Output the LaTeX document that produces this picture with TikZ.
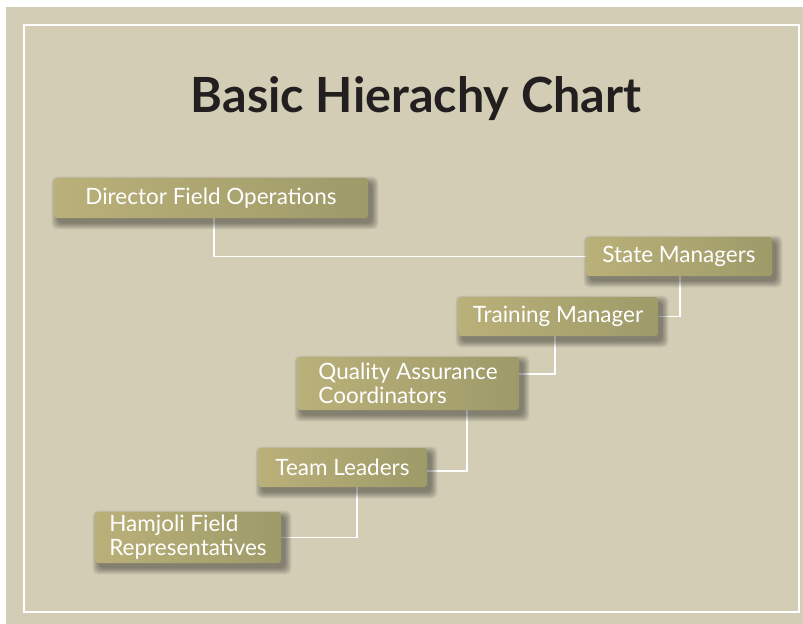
\documentclass[tikz,border=0pt]{standalone}
\usepackage{fontspec}
\setmainfont{Lato}
\usetikzlibrary{calc}
\definecolor{bgbeige}{RGB}{211,205,181}
\definecolor{boxL}{RGB}{186,176,121}
\definecolor{boxR}{RGB}{158,155,105}
\definecolor{titlecol}{RGB}{35,31,32}
\pgfdeclarelayer{back}
\pgfdeclarelayer{lines}
\pgfdeclarelayer{shade}
\pgfsetlayers{back,lines,shade,main}
\tikzset{
  orgbox/.style={rectangle, rounded corners=3bp, left color=boxL, right color=boxR,
    text=white, font=\fontsize{22.5bp}{24bp}\selectfont, align=left, inner sep=0pt},
  link/.style={draw=white, line width=1.8bp},
  titletext/.style={font=\bfseries\fontsize{48.5bp}{54bp}\selectfont, text=titlecol, anchor=base},
  shadowpiece/.style={fill=black, opacity=0.045, rounded corners=5bp},
}
\newcommand{\boxshadow}[1]{%
  \foreach \r in {0,1,...,9}{%
    \fill[shadowpiece] ($(#1.north west)+(4-\r*0.7,5-\r*0.7)$) rectangle ($(#1.south east)+(4+\r*0.7,5+\r*0.7)$);
  }%
}
\begin{document}
\begin{tikzpicture}[x=1bp,y=-1bp]
\useasboundingbox (0,0) rectangle (803,624);
\begin{pgfonlayer}{back}
  \fill[bgbeige] (6,7) rectangle (803,624);
  \draw[white, line width=2.5bp] (24,25) rectangle (799,612);
\end{pgfonlayer}
\node[titletext] (title) at (416,113) {Basic Hierachy Chart};
\node[orgbox, minimum width=314bp, minimum height=40bp] (dir) at (211,198) {Director Field Operations};
\node[orgbox, minimum width=186bp, minimum height=39bp] (state) at (679,256.5) {State Managers};
\node[orgbox, minimum width=200bp, minimum height=39bp] (train) at (558,316.5) {Training Manager};
\node[orgbox, minimum width=222bp, minimum height=53bp] (qa) at (408,383.5) {Quality Assurance\\Coordinators};
\node[orgbox, minimum width=169bp, minimum height=39bp] (team) at (342.5,467.5) {Team Leaders};
\node[orgbox, minimum width=186bp, minimum height=51bp] (ham) at (188,537.5) {Hamjoli Field\\Representatives};
\begin{pgfonlayer}{shade}
  \boxshadow{dir}
  \boxshadow{state}
  \boxshadow{train}
  \boxshadow{qa}
  \boxshadow{team}
  \boxshadow{ham}
\end{pgfonlayer}
\begin{pgfonlayer}{lines}
  \draw[link] ([xshift=3bp]dir.south) |- (state.west);
  \draw[link] ([xshift=1bp]state.south) |- (train.east);
  \draw[link] ([xshift=-3bp]train.south) |- ([yshift=9.5bp]qa.east);
  \draw[link] ([xshift=-52bp]qa.south east) |- ([yshift=-3.5bp]team.east);
  \draw[link] ([xshift=14.5bp]team.south) |- (ham.east);
\end{pgfonlayer}
\end{tikzpicture}
\end{document}
